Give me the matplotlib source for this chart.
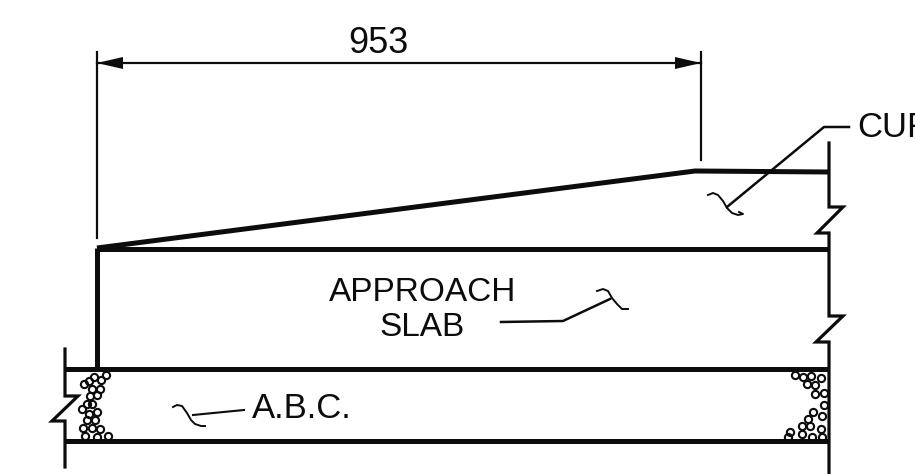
import matplotlib
matplotlib.use('Agg')
import matplotlib.pyplot as plt

# everything is in picture pixels, y going down
wall_x = [97, 97]
wall_y = [369, 248]
slope_x = [97, 695, 829]
slope_y = [248, 171, 172]
slab_x = [97, 829]
slab_y = [249, 249]
abc_top_x = [65, 829]
abc_top_y = [369, 369]
abc_bot_x = [65, 829]
abc_bot_y = [441, 441]

left_break_x = [65, 65, 78, 52, 65, 65]
left_break_y = [349, 396, 396, 421, 421, 467]
right_break_x = [829, 829, 843, 817, 829, 829, 843, 816, 829, 829]
right_break_y = [143, 207, 207, 233, 233, 316, 316, 342, 342, 474]

dim_left = 97
dim_right = 701
dim_y = 63
ext_left_y = [52, 238]
ext_right_y = [52, 160]

curb_leader_x = [849, 824, 727]
curb_leader_y = [127, 127, 207]
curb_sq_x = [708, 713, 718, 723, 727, 732, 738, 743, 739]
curb_sq_y = [195, 193, 195, 201, 208, 213, 215, 214, 212]
slab_leader_x = [501, 563, 610]
slab_leader_y = [322, 321, 299]
slab_sq_x = [597, 603, 608, 612, 617, 622, 628]
slab_sq_y = [291, 289, 291, 298, 304, 309, 309]
abc_leader_x = [193, 244]
abc_leader_y = [415, 410]
abc_sq_x = [173, 177, 182, 187, 191, 195, 201, 205]
abc_sq_y = [407, 405, 406, 413, 420, 424, 426, 426]

stones_left_x = [106, 94, 89, 101, 84, 92, 100, 90, 97, 87, 92, 82, 97, 89, 95, 87, 83, 92, 100, 85, 97, 108]
stones_left_y = [375, 377, 381, 380, 384, 389, 389, 396, 395, 404, 404, 409, 412, 414, 420, 420, 428, 428, 429, 436, 437, 436]
stones_right_x = [795, 803, 811, 821, 807, 815, 815, 824, 824, 813, 822, 808, 802, 810, 821, 790, 802, 788, 812, 822]
stones_right_y = [375, 377, 376, 378, 384, 385, 394, 393, 405, 412, 416, 419, 426, 426, 429, 432, 434, 437, 437, 437]

labels = ['953', 'CURB', 'APPROACH', 'SLAB', 'A.B.C.']
label_x = [378, 857, 423, 422, 252]
label_base = [53, 137, 301, 336, 418]
label_ha = ['center', 'left', 'center', 'center', 'left']
label_size = [26, 25, 24, 24, 25]

fig = plt.figure(figsize=(9.15, 4.74), dpi=100)
ax = fig.add_axes([0, 0, 1, 1])
ax.set_xlim(0, 915)
ax.set_ylim(474, 0)
ax.axis('off')

ink = '#0c0c0c'

# heavy outlines
for xs, ys in [(wall_x, wall_y), (slope_x, slope_y), (slab_x, slab_y),
               (abc_top_x, abc_top_y), (abc_bot_x, abc_bot_y)]:
    ax.plot(xs, ys, color=ink, lw=3.6, solid_capstyle='butt')

# break lines
ax.plot(left_break_x, left_break_y, color=ink, lw=2.3, solid_joinstyle='miter')
ax.plot(right_break_x, right_break_y, color=ink, lw=2.3, solid_joinstyle='miter')

# dimension
ax.plot([dim_left, dim_left], ext_left_y, color=ink, lw=1.6)
ax.plot([dim_right, dim_right], ext_right_y, color=ink, lw=1.6)
ax.plot([dim_left, dim_right], [dim_y, dim_y], color=ink, lw=1.6)
head = 26
ax.fill([dim_left, dim_left + head, dim_left + head], [dim_y, dim_y - 6, dim_y + 6], color=ink, lw=0)
ax.fill([dim_right, dim_right - head, dim_right - head], [dim_y, dim_y - 6, dim_y + 6], color=ink, lw=0)

# leaders
ax.plot(curb_leader_x, curb_leader_y, color=ink, lw=1.8)
ax.plot(curb_sq_x, curb_sq_y, color=ink, lw=1.4)
ax.plot(slab_leader_x, slab_leader_y, color=ink, lw=1.8)
ax.plot(slab_sq_x, slab_sq_y, color=ink, lw=1.4)
ax.plot(abc_leader_x, abc_leader_y, color=ink, lw=1.5)
ax.plot(abc_sq_x, abc_sq_y, color=ink, lw=1.4)

# aggregate
ax.plot(stones_left_x, stones_left_y, 'o', ms=5.2, mfc='none', mec=ink, mew=1.5)
ax.plot(stones_right_x, stones_right_y, 'o', ms=5.2, mfc='none', mec=ink, mew=1.5)

for s, x, y, ha, fs in zip(labels, label_x, label_base, label_ha, label_size):
    ax.text(x, y, s, ha=ha, va='baseline', fontsize=fs, color=ink,
            family='Liberation Sans', clip_on=True)

fig.savefig('out.png', dpi=100)
